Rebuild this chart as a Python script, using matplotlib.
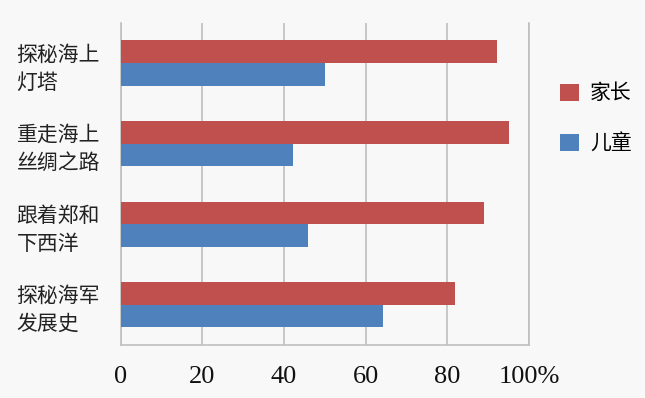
import matplotlib.pyplot as plt
import numpy as np

plt.rcParams["font.family"] = ["Noto Sans CJK SC", "DejaVu Sans"]

categories = ["探秘海上\n灯塔", "重走海上\n丝绸之路", "跟着郑和\n下西洋", "探秘海军\n发展史"]
parents = [92.1, 95.2, 89.1, 81.9]
children = [50.0, 42.3, 45.9, 64.2]
xticks = [0, 20, 40, 60, 80, 100]
xtick_labels = ["0", "20", "40", "60", "80", "100%"]

red = "#C0504D"
blue = "#4F81BD"
grid_col = "#BFBFBF"
bg = "#F8F8F8"

fig = plt.figure(figsize=(6.45, 3.98), dpi=100, facecolor=bg)
ax = fig.add_axes([0.187, 0.133, 0.633, 0.810], facecolor=bg)

y = np.arange(len(categories))
h = 0.28
ax.barh(y - h / 2, parents, height=h, color=red, label="家长", zorder=3)
ax.barh(y + h / 2, children, height=h, color=blue, label="儿童", zorder=3)

ax.set_xlim(0, 100)
ax.set_ylim(len(categories) - 0.5, -0.5)
ax.set_xticks(xticks)
ax.set_xticklabels(xtick_labels, family="Liberation Serif", fontsize=19, color="#111111")
ax.set_yticks(y)
ax.set_yticklabels(categories, ha="left", fontsize=15, linespacing=1.35, color="#222222")
ax.tick_params(axis="y", length=0, pad=75)
ax.tick_params(axis="x", length=0, pad=15)

ax.grid(axis="x", color=grid_col, linewidth=1.2, zorder=0)
for side in ["left", "bottom", "right"]:
    ax.spines[side].set_color(grid_col)
    ax.spines[side].set_linewidth(1.2)
ax.spines["top"].set_visible(False)

fig.legend(
    loc="center left",
    bbox_to_anchor=(0.868, 0.7025),
    frameon=False,
    prop={"size": 15},
    handlelength=0.9,
    handleheight=0.9,
    handletextpad=0.55,
    labelspacing=1.35,
    borderpad=0,
    borderaxespad=0,
)

fig.savefig("out.png", dpi=100, facecolor=bg)
